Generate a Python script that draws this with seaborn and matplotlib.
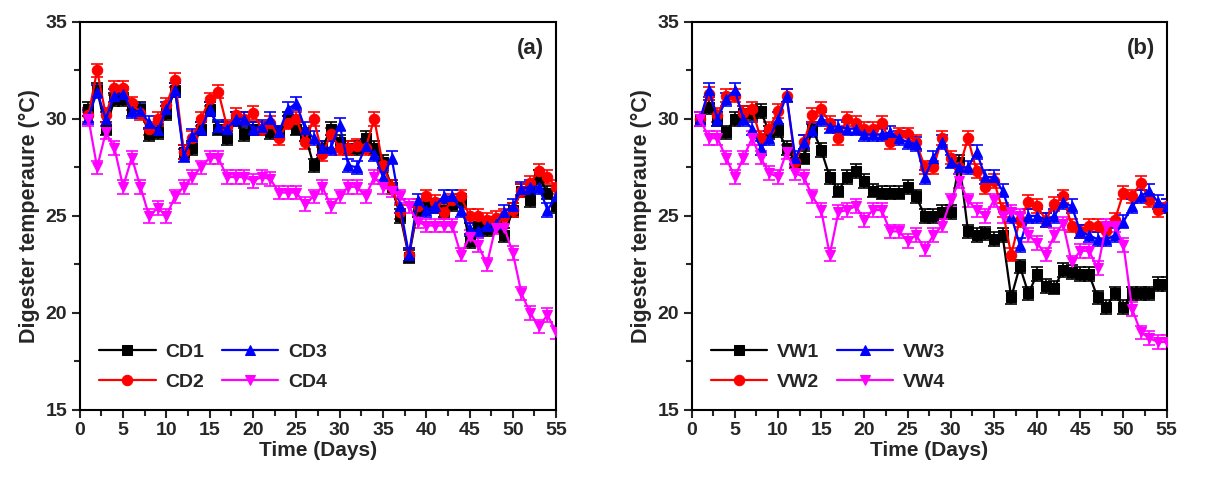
import numpy as np
import pandas as pd
import matplotlib
matplotlib.use("Agg")
import matplotlib.pyplot as plt
import seaborn as sns
from matplotlib.ticker import MultipleLocator

days = list(range(1, 56))

CD1 = [30.5, 31.5, 29.5, 31.0, 31.0, 30.5, 30.5, 29.2, 29.3, 30.3,
       31.5, 28.3, 28.5, 29.5, 30.5, 29.5, 29.0, 30.0, 29.2, 29.5,
       29.5, 29.3, 29.3, 30.0, 29.5, 29.2, 27.6, 28.5, 29.5, 28.8,
       28.5, 28.5, 29.0, 28.5, 27.8, 26.5, 25.0, 22.9, 25.3, 25.5,
       25.5, 25.3, 25.6, 25.8, 23.7, 24.5, 24.3, 24.5, 24.0, 25.3,
       26.3, 25.8, 27.0, 26.2, 25.5]
CD2 = [30.2, 32.5, 30.2, 31.6, 31.6, 30.8, 30.3, 29.5, 30.0, 30.7,
       32.0, 28.3, 29.0, 30.0, 31.0, 31.4, 29.6, 30.2, 30.0, 30.3,
       29.5, 29.8, 29.0, 29.8, 30.0, 28.8, 30.0, 28.2, 29.2, 28.5,
       28.5, 28.6, 28.5, 30.0, 27.6, 26.5, 25.2, 23.0, 25.5, 26.0,
       25.7, 25.2, 25.8, 26.0, 25.0, 25.0, 24.8, 24.9, 25.0, 25.3,
       26.3, 26.7, 27.3, 27.0, 26.5]
CD3 = [30.1, 31.4, 30.0, 31.2, 31.3, 30.4, 30.4, 29.8, 29.4, 30.5,
       31.5, 28.1, 29.1, 29.5, 30.5, 29.6, 29.5, 30.0, 30.0, 29.5,
       29.6, 30.0, 29.3, 30.5, 30.8, 29.5, 29.0, 28.5, 28.5, 29.7,
       27.6, 27.5, 28.6, 28.2, 27.0, 28.0, 25.5, 23.0, 25.8, 25.3,
       25.5, 26.0, 26.0, 25.3, 24.3, 24.2, 24.5, 24.6, 25.2, 25.5,
       26.4, 26.5, 26.5, 25.3, 26.0]
CD4 = [30.0, 27.5, 29.3, 28.5, 26.5, 28.0, 26.5, 25.0, 25.4, 25.0,
       26.0, 26.5, 27.0, 27.5, 28.0, 28.0, 27.0, 27.0, 27.0, 26.8,
       27.0, 26.9, 26.2, 26.2, 26.2, 25.6, 26.0, 26.5, 25.5, 26.0,
       26.5, 26.5, 26.0, 27.0, 26.5, 26.3, 26.0, 25.5, 24.7, 24.5,
       24.5, 24.5, 24.5, 23.0, 23.9, 23.5, 22.5, 24.4, 24.4, 23.1,
       21.0, 20.0, 19.3, 19.9, 19.0]

VW1 = [30.0, 30.6, 30.0, 29.3, 30.0, 30.3, 30.3, 30.4, 29.3, 29.4,
       28.5, 27.8, 28.0, 29.5, 28.4, 27.0, 26.3, 27.0, 27.3, 26.8,
       26.3, 26.2, 26.2, 26.2, 26.5, 26.0, 25.0, 25.0, 25.2, 25.2,
       27.8, 24.2, 24.0, 24.1, 23.8, 24.0, 20.8, 22.4, 21.0, 22.0,
       21.4, 21.3, 22.2, 22.1, 22.0, 22.0, 20.8, 20.3, 21.0, 20.3,
       21.0, 21.0, 21.0, 21.5, 21.5]
VW2 = [30.0, 31.3, 30.2, 31.2, 31.2, 30.3, 30.5, 29.0, 29.5, 30.4,
       31.2, 27.8, 28.8, 30.2, 30.5, 29.8, 29.0, 30.0, 29.8, 29.5,
       29.5, 29.8, 28.8, 29.2, 29.2, 28.8, 27.5, 27.5, 29.0, 28.0,
       27.5, 29.0, 27.3, 26.5, 26.8, 25.3, 23.0, 24.8, 25.7, 25.5,
       24.8, 25.6, 26.0, 24.5, 24.2, 24.5, 24.5, 24.2, 24.8, 26.2,
       26.0, 26.7, 25.8, 25.3, 25.5]
VW3 = [30.0, 31.5, 30.0, 31.0, 31.5, 30.0, 29.5, 28.5, 29.0, 30.0,
       31.2, 28.0, 28.8, 29.4, 30.0, 29.6, 29.6, 29.5, 29.5, 29.2,
       29.2, 29.2, 29.3, 29.0, 28.8, 28.7, 27.0, 28.0, 28.8, 27.8,
       27.5, 27.5, 28.3, 27.0, 27.0, 26.3, 25.0, 23.5, 25.0, 25.0,
       24.8, 25.0, 25.7, 25.5, 24.2, 24.0, 23.8, 23.8, 24.0, 24.7,
       25.5, 26.0, 26.3, 25.7, 25.5]
VW4 = [30.0, 29.0, 29.0, 28.0, 27.0, 28.0, 29.0, 28.0, 27.2, 27.0,
       28.3, 27.2, 27.0, 26.0, 25.3, 23.0, 25.2, 25.3, 25.5, 24.8,
       25.3, 25.3, 24.2, 24.2, 23.7, 24.0, 23.3, 24.0, 24.5, 25.8,
       26.8, 25.8, 25.3, 25.0, 25.8, 25.0, 25.2, 25.0, 24.0, 23.6,
       23.0, 24.0, 24.6, 22.6, 23.2, 23.2, 22.3, 24.5, 24.5, 23.5,
       20.2, 19.0, 18.7, 18.5, 18.5]

ERR = 0.35

names_a = ["CD1", "CD2", "CD3", "CD4"]
names_b = ["VW1", "VW2", "VW3", "VW4"]
series_a = [CD1, CD2, CD3, CD4]
series_b = [VW1, VW2, VW3, VW4]
colors = ["#000000", "#FF0000", "#0000FF", "#FF00FF"]
markers = ["s", "o", "^", "v"]

sns.set_style("white")
plt.rcParams["font.family"] = ["Liberation Sans", "DejaVu Sans"]
plt.rcParams["font.weight"] = "bold"

fig = plt.figure(figsize=(12.09, 4.84), dpi=100)
ax_a = fig.add_axes([0.066, 0.153, 0.394, 0.802])
ax_b = fig.add_axes([0.572, 0.153, 0.393, 0.802])

for ax, names, series, tag in [(ax_a, names_a, series_a, "(a)"),
                                (ax_b, names_b, series_b, "(b)")]:
    for name, vals, c, m in zip(names, series, colors, markers):
        ax.errorbar(days, vals, yerr=ERR, fmt="none", ecolor=c,
                    elinewidth=1.2, capsize=4.5, capthick=1.2, zorder=2)
        sns.lineplot(x=days, y=vals, ax=ax, color=c, marker=m,
                     markersize=7.5, markeredgecolor=c, linewidth=1.6,
                     label=name, zorder=3)
    ax.set_xlim(0, 55)
    ax.set_ylim(15, 35)
    ax.xaxis.set_major_locator(MultipleLocator(5))
    ax.xaxis.set_minor_locator(MultipleLocator(2.5))
    ax.yaxis.set_major_locator(MultipleLocator(5))
    ax.yaxis.set_minor_locator(MultipleLocator(2.5))
    ax.tick_params(axis="both", which="major", direction="out", length=6,
                   width=1.5, labelsize=14, bottom=True, left=True, pad=3)
    ax.tick_params(axis="both", which="minor", direction="out", length=4,
                   width=1.5, bottom=True, left=True)
    for lab in ax.get_xticklabels() + ax.get_yticklabels():
        lab.set_fontweight("bold")
    for sp in ax.spines.values():
        sp.set_linewidth(1.5)
        sp.set_color("black")
    ax.set_xlabel("Time (Days)", fontsize=15, fontweight="bold", labelpad=1)
    ax.set_ylabel("Digester temperaure (°C)", fontsize=15.5, fontweight="bold",
                  labelpad=4)
    ax.text(0.975, 0.93, tag, transform=ax.transAxes, ha="right", va="center",
            fontsize=16, fontweight="bold")
    handles, labels = ax.get_legend_handles_labels()
    ax.legend(handles, labels, ncol=2, loc="lower left", frameon=False,
              prop={"size": 14, "weight": "bold"}, handlelength=2.9,
              columnspacing=0.9, labelspacing=0.6, handletextpad=0.5,
              borderaxespad=0.6, bbox_to_anchor=(0.0, 0.0))

fig.savefig("out.png", dpi=100, facecolor="white")
